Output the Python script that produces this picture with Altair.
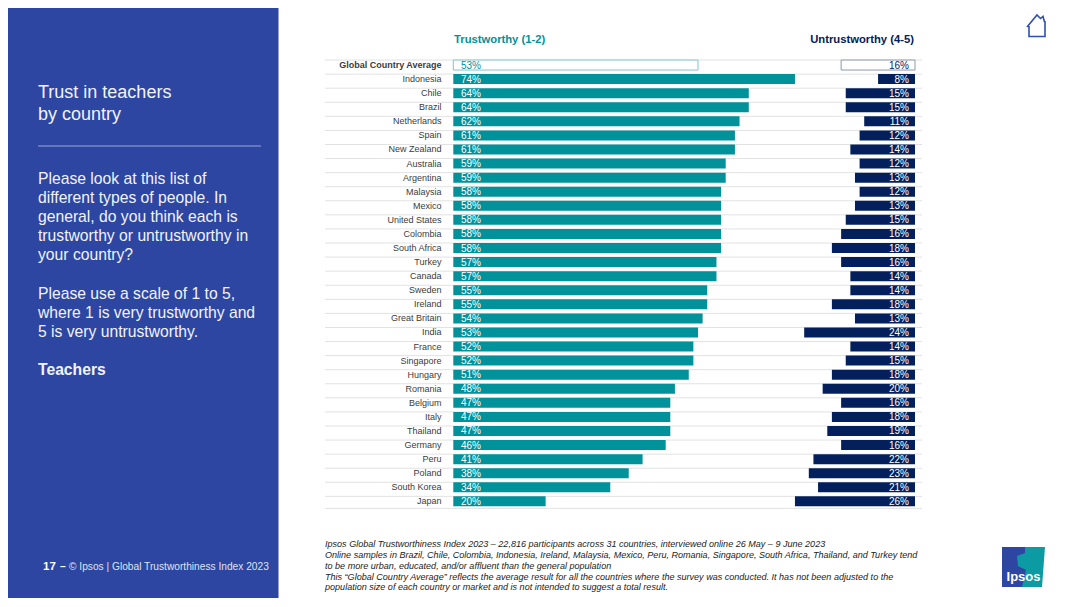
import altair as alt
import pandas as pd

countries = ["Global Country Average","Indonesia","Chile","Brazil","Netherlands","Spain","New Zealand","Australia","Argentina","Malaysia","Mexico","United States","Colombia","South Africa","Turkey","Canada","Sweden","Ireland","Great Britain","India","France","Singapore","Hungary","Romania","Belgium","Italy","Thailand","Germany","Peru","Poland","South Korea","Japan"]
trust = [53,74,64,64,62,61,61,59,59,58,58,58,58,58,57,57,55,55,54,53,52,52,51,48,47,47,47,46,41,38,34,20]
untrust = [16,8,15,15,11,12,14,12,13,12,13,15,16,18,16,14,14,18,13,24,14,15,18,20,16,18,19,16,22,23,21,26]

OFF = 8
W, H = 1064, 590
FONT = "Liberation Sans"
TEAL = "#00929b"
NAVY = "#03205c"
PANEL = "#2c46a2"
SOFT = "#f2f3f8"
AVG = countries[0]

df = pd.DataFrame({"country": countries, "trust": trust, "untrust": untrust})
df["left"] = 100 - df["untrust"]
df["full"] = 100
df["zero"] = 0
df["tl"] = df["trust"].astype(str) + "%"
df["ul"] = df["untrust"].astype(str) + "%"

xs = alt.Scale(domain=[0, 100], range=[453.3 - OFF, 915 - OFF])
ys = alt.Scale(domain=countries, range=[58 - OFF, 508.4 - OFF], paddingInner=0.29, paddingOuter=0.145)
y_axis = alt.Axis(orient="left", offset=-(441 - OFF), domain=False, ticks=False, labelPadding=0,
                  labelFont=FONT, labelFontSize=9, labelColor="#3c3c3c", labelLimit=200, grid=False,
                  labelFontWeight=alt.ExprRef("datum.value == '%s' ? 'bold' : 'normal'" % AVG))
yn = alt.Y("country:N", scale=ys, axis=y_axis, sort=countries, title=None)
base = alt.Chart(df)
regular = "datum.country != '%s'" % AVG
avg = "datum.country == '%s'" % AVG
px = lambda v: alt.value(v - OFF)
one = pd.DataFrame({"a": [0]})

panel = alt.Chart(one).mark_rect(color=PANEL).encode(
    x=alt.value(0), x2=px(278.5), y=alt.value(0), y2=alt.value(H))

seps = base.mark_rule(color="#e2e2e2", strokeWidth=1).encode(
    y=alt.Y("country:N", scale=ys, bandPosition=0, title=None, sort=countries, axis=y_axis),
    x=px(325), x2=px(922))
sep_end = alt.Chart(one).mark_rule(color="#e2e2e2", strokeWidth=1).encode(
    y=px(508.4), x=px(325), x2=px(922))

X1 = alt.X("zero:Q", scale=xs, axis=None)
X2 = alt.X("left:Q", scale=xs, axis=None)
b1 = base.transform_filter(regular).mark_rect(color=TEAL).encode(x=X1, x2="trust:Q", y=yn)
b2 = base.transform_filter(regular).mark_rect(color=NAVY).encode(x=X2, x2="full:Q", y=yn)
a1 = base.transform_filter(avg).mark_rect(color="white", stroke="#7fc6ca", strokeWidth=1).encode(x=X1, x2="trust:Q", y=yn)
a2 = base.transform_filter(avg).mark_rect(color="white", stroke="#8d97ad", strokeWidth=1).encode(x=X2, x2="full:Q", y=yn)

t1 = base.mark_text(align="left", baseline="middle", font=FONT, fontSize=10, dy=0.5).encode(
    x=px(461), y=yn, text="tl:N",
    color=alt.condition(avg, alt.value(TEAL), alt.value("white")))
t2 = base.mark_text(align="right", baseline="middle", font=FONT, fontSize=10, dy=0.5).encode(
    x=px(909), y=yn, text="ul:N",
    color=alt.condition(avg, alt.value(NAVY), alt.value("white")))


def label(x, y, text, size, color, weight="normal", style="normal", align="left"):
    return alt.Chart(pd.DataFrame({"t": [text]})).mark_text(
        align=align, baseline="middle", font=FONT, fontSize=size, color=color,
        fontWeight=weight, fontStyle=style).encode(x=px(x), y=px(y), text="t:N")


texts = [
    label(454, 39.5, "Trustworthy (1-2)", 11.25, TEAL, "bold"),
    label(914, 39.5, "Untrustworthy (4-5)", 11.25, NAVY, "bold", align="right"),
    label(38, 93, "Trust in teachers", 18, SOFT),
    label(38, 115, "by country", 18, SOFT),
]
body = ["Please look at this list of", "different types of people. In", "general, do you think each is",
        "trustworthy or untrustworthy in", "your country?", "", "Please use a scale of 1 to 5,",
        "where 1 is very trustworthy and", "5 is very untrustworthy."]
for i, s in enumerate(body):
    if s:
        texts.append(label(38, 178.6 + i * 19.2, s, 15.7, SOFT))
texts.append(label(38, 369.5, "Teachers", 15.7, SOFT, "bold"))
texts.append(label(43, 567, "17", 11.5, "white", "bold"))
texts.append(label(60, 567, "–", 10.2, "white", "bold"))
texts.append(label(69, 567, "© Ipsos | Global Trustworthiness Index 2023", 10.2, "#dfe3f2"))
notes = [
    "Ipsos Global Trustworthiness Index 2023 – 22,816 participants across 31 countries, interviewed online 26 May – 9 June 2023",
    "Online samples in Brazil, Chile, Colombia, Indonesia, Ireland, Malaysia, Mexico, Peru, Romania, Singapore, South Africa, Thailand, and Turkey tend",
    "to be more urban, educated, and/or affluent than the general population",
    "This “Global Country Average” reflects the average result for all the countries where the survey was conducted. It has not been adjusted to the",
    "population size of each country or market and is not intended to suggest a total result.",
]
for i, s in enumerate(notes):
    texts.append(label(325, 544 + i * 10.85, s, 9.06, "#222222", style="italic"))

divider = alt.Chart(one).mark_rule(color="#9aa6d2", strokeWidth=1).encode(
    y=px(146), x=px(38), x2=px(261))

home_path = "M -0.9 0.1 L 0.1 -1.1 L 0.45 -0.75 L 0.7 -0.95 L 0.85 -0.4 M 0.9 -0.5 L 0.9 1.05 L -0.7 1.05 L -0.7 0"
home = alt.Chart(one).mark_point(
    shape=home_path, size=400, filled=False, stroke="#2f4fb0", strokeWidth=1.6, opacity=1).encode(
    x=px(1036), y=px(26))

logo_l = alt.Chart(one).mark_rect(color="#2c46a2").encode(
    x=px(1002), x2=px(1040), y=px(547), y2=px(587))
teal_path = "M 0.2 -2 L 2.2 -2 Q 2.05 0 1.9 2 L -0.1 2 L 0.3 0.3 L -0.5 -0.1 L -0.6 -1.1 L 0.2 -1.4 Z"
logo_r = alt.Chart(one).mark_point(
    shape=teal_path, size=400, filled=True, fill="#0c9aa3", strokeWidth=0, opacity=1).encode(
    x=px(1023), y=px(567))
logo_t = label(1023.5, 576.5, "Ipsos", 13, "white", "bold", align="center")

chart = alt.layer(panel, divider, seps, sep_end, b1, b2, a1, a2, t1, t2, *texts, logo_l, logo_r, logo_t, home).properties(
    width=W, height=H, padding=0, autosize=alt.AutoSizeParams(type="none"), background="white"
).configure_view(stroke=None).resolve_scale(x="shared", y="shared")

chart.save("out.html", embed_options={"renderer": "svg", "actions": False})
